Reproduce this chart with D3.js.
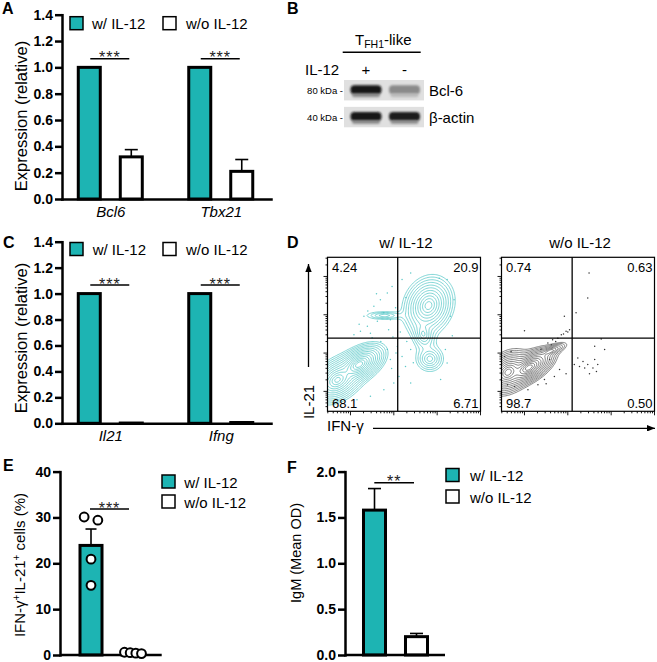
<!DOCTYPE html>
<html lang="en">
<head>
<meta charset="utf-8">
<title>IL-12 and TFH1-like cells</title>
<script src="https://cdn.jsdelivr.net/npm/d3@7/dist/d3.min.js"></script>
<style>
  * { margin:0; padding:0; }
  body { background:#fff; width:657px; height:662px; overflow:hidden; }
  svg { display:block; }
</style>
</head>
<body>
<svg id="fig" width="657" height="662"></svg>
<script>
// ─── Data ───
const series = ["w/ IL-12", "w/o IL-12"];

// A: qPCR
const genesA = ["Bcl6", "Tbx21"];
const withA = [1.0, 1.0];
const withErrA = [0, 0];
const withoutA = [0.32, 0.21];
const withoutErrA = [0.055, 0.09];
const starsA = ["***", "***"];

// C: qPCR
const genesC = ["Il21", "Ifng"];
const withC = [1.0, 1.0];
const withErrC = [0, 0];
const withoutC = [0.002, 0.006];
const withoutErrC = [0.002, 0.003];
const starsC = ["***", "***"];
const exprTicks = [0, 0.2, 0.4, 0.6, 0.8, 1.0, 1.2, 1.4];

// B: western blot (relative band darkness)
const blotLanes = ["+", "-"];
const blotProteins = ["Bcl-6", "β-actin"];
const blotMarkers = ["80 kDa -", "40 kDa -"];
const bcl6Band = [0.97, 0.38];
const actinBand = [0.97, 0.93];

// D: flow plots, quadrant % (UL, UR, LL, LR) and gates in decades
const quadWith = ["4.24", "20.9", "68.1", "6.71"];
const quadWithout = ["0.74", "0.63", "98.7", "0.50"];
const gateWith = [1.09, 1.39];
const gateWithout = [1.10, 1.39];
// populations: [x, y, sdX, sdY, rho, peak]
const popWith = [
  [0.20, 0.70, 0.20, 0.18, 0.50, 1.0],
  [-0.30, 0.30, 0.22, 0.22, 0.35, 0.5],
  [1.80, 2.24, 0.22, 0.29, 0.15, 0.35],
  [1.68, 1.50, 0.15, 0.25, -0.2, 0.04],
  [1.83, 0.85, 0.20, 0.21, 0.0, 0.03],
  [0.78, 1.98, 0.36, 0.09, 0.0, 0.012]
];
const popWithout = [
  [0.10, 0.62, 0.20, 0.17, 0.60, 1.0],
  [-0.38, 0.50, 0.18, 0.20, 0.30, 0.6],
  [0.60, 1.05, 0.20, 0.12, 0.75, 0.05]
];
const dotsWith = [
  [0.31,1.96],[0.39,1.70],[0.54,2.22],[0.69,2.39],[0.85,2.57],[0.96,2.74],[0.77,2.05],
  [0.92,1.87],[0.46,1.52],[0.23,1.57],[1.04,2.18],[0.62,1.83],[0.08,1.48],[0.88,1.61],
  [2.31,1.96],[2.39,2.39],[1.19,2.92],[1.39,3.09],[2.23,2.92],[1.08,1.17],[1.19,0.91],
  [1.27,0.65],[1.39,1.09],[1.12,0.39],[1.39,0.22],[2.08,0.31],[2.23,0.74],[2.19,1.09],
  [0.92,0.83],[0.85,1.09],[1.00,0.22],[0.77,0.04],[0.46,-0.13],[0.15,-0.22],[-0.23,-0.39],
  [0.50,1.40],[0.70,1.30],[0.98,1.42],[1.15,1.55],[1.28,2.45],[0.60,2.55],[0.40,2.10],
  [1.30,1.30],[1.45,0.75],[0.95,0.60],[1.05,1.00],[2.35,1.45],[2.05,2.95],[0.20,1.75]
];
const dotsWithout = [
  [1.49,3.09],[1.46,2.44],[1.19,2.05],[0.92,1.96],[0.00,1.58],[1.77,1.37],[1.62,1.18],
  [1.85,1.09],[1.23,0.87],[1.35,0.78],[1.46,0.70],[1.62,0.83],[1.58,0.61],[1.39,0.61],
  [1.27,0.65],[1.69,0.70],[1.15,0.70],[1.50,0.46],[1.66,0.52],[0.96,0.46],[0.81,0.57],
  [0.69,0.39],[0.85,1.48],[0.96,1.57],[0.77,1.39],[0.65,1.35],[1.04,1.61],[0.54,1.26],
  [0.62,1.22],[-0.23,0.13],[0.08,0.04],[0.31,0.17],[-0.39,0.17],[0.46,0.31],[-0.46,0.91],
  [-0.31,1.04],[0.58,0.83],[0.38,1.09],[0.90,1.50],[0.72,1.30],[1.00,1.55],[0.50,0.20]
];
const flowDecades = [-1, 0, 1, 2, 3];

// E: IFN-γ+IL-21+ cells (%), individual mice
const cellsWith = [30.1, 29.4, 20.9, 15.2];
const cellsWithout = [0.6, 0.5, 0.4, 0.3];
const cellsTicks = [0, 10, 20, 30, 40];

// F: IgM (Mean OD)
const igmMean = [1.58, 0.20];
const igmSem = [0.235, 0.035];
const igmTicks = [0, 0.5, 1.0, 1.5, 2.0];

// ─── Setup ───
const FONT = '"Liberation Sans", Arial, Helvetica, sans-serif';
const TEAL = "#1db4b3";
const fills = [TEAL, "#fff"];
const svg = d3.select("#fig").attr("font-family", FONT);
const defs = svg.append("defs");

defs.append("filter").attr("id", "blur").attr("x", "-30%").attr("y", "-80%")
  .attr("width", "160%").attr("height", "260%")
  .append("feGaussianBlur").attr("stdDeviation", 1.3);
defs.append("marker").attr("id", "arrow").attr("viewBox", "0 0 10 8")
  .attr("refX", 10).attr("refY", 4).attr("markerWidth", 8).attr("markerHeight", 6.4)
  .attr("markerUnits", "userSpaceOnUse").attr("orient", "auto")
  .append("path").attr("d", "M0,0L10,4L0,8z").attr("fill", "#000");

function styleAxis(sel, fs) {
  sel.attr("font-family", FONT).attr("font-size", fs);
  sel.select(".domain").attr("stroke-width", 2.5).attr("stroke-linecap", "square");
  sel.selectAll(".tick line").attr("stroke-width", 2.5);
  sel.selectAll(".tick text").attr("fill", "#000");
}

function rotLabel(x, y, text, fs) {
  return svg.append("text").attr("transform", `translate(${x},${y}) rotate(-90)`)
    .attr("text-anchor", "middle").attr("font-size", fs).text(text);
}

function starMark(x1, x2, yl, txt) {
  svg.append("line").attr("x1", x1).attr("x2", x2).attr("y1", yl).attr("y2", yl)
    .attr("stroke", "#000").attr("stroke-width", 1.5);
  svg.append("text").attr("x", (x1 + x2) / 2).attr("y", yl + 4.5).attr("text-anchor", "middle")
    .attr("font-size", 16).attr("letter-spacing", 1).attr("fill", "#222").text(txt);
}

function errBar(cx, y0, y1, half) {
  svg.append("line").attr("x1", cx).attr("x2", cx).attr("y1", y0).attr("y2", y1)
    .attr("stroke", "#000").attr("stroke-width", 1.6);
  svg.append("line").attr("x1", cx - half).attr("x2", cx + half).attr("y1", y1).attr("y2", y1)
    .attr("stroke", "#000").attr("stroke-width", 1.6);
}

function legend(xs, ys, tx, baseDy) {
  series.forEach((s, k) => {
    svg.append("rect").attr("x", xs[k]).attr("y", ys[k]).attr("width", 13).attr("height", 13)
      .attr("fill", fills[k]).attr("stroke", "#000").attr("stroke-width", 1.5);
    svg.append("text").attr("x", tx[k]).attr("y", ys[k] + baseDy).attr("font-size", 15).text(s);
  });
}

// ─── Panel labels ───
[["A", 2, 14], ["B", 287, 14], ["C", 3, 248], ["D", 287, 248], ["E", 3, 471], ["F", 287, 473]]
  .forEach(([t, x, y]) => svg.append("text").attr("x", x).attr("y", y)
    .attr("font-size", 16).attr("font-weight", "bold").text(t));

// ─── A & C: expression bars ───
function exprPanel(top, bottom, genes, vals, errs, stars, titleY) {
  const y = d3.scaleLinear().domain([0, 1.4]).range([bottom, top]);
  const gx = d3.scalePoint().domain(genes).range([62, 271]).padding(0.446).align(0.49);
  const sub = d3.scaleBand().domain(series).range([-42, 42]).paddingInner(0.476).paddingOuter(0.238);
  const bw = sub.bandwidth();
  const rows = genes.flatMap((gene, i) => series.map((s, k) => ({ gene, s, k, v: vals[k][i], e: errs[k][i] })));

  svg.append("g").selectAll("rect").data(rows).join("rect")
    .attr("x", d => gx(d.gene) + sub(d.s)).attr("width", bw)
    .attr("y", d => y(d.v)).attr("height", d => y(0) - y(d.v))
    .attr("fill", d => fills[d.k]).attr("stroke", "#000").attr("stroke-width", 3);
  rows.filter(d => d.e > 0).forEach(d => errBar(gx(d.gene) + sub(d.s) + bw / 2, y(d.v), y(d.v + d.e), 6.5));

  genes.forEach((gene, i) => {
    const c0 = gx(gene) + sub(series[0]) + bw / 2, c1 = gx(gene) + sub(series[1]) + bw / 2;
    starMark(c0 + 1, c1 - 2, y(1.0) - 8.5, stars[i]);
  });

  const ya = svg.append("g").attr("transform", "translate(62,0)")
    .call(d3.axisLeft(y).tickValues(exprTicks).tickFormat(d3.format(".1f")).tickSize(7).tickSizeOuter(0).tickPadding(2));
  styleAxis(ya, 14);
  ya.selectAll(".tick text").attr("font-weight", "bold");
  const xa = svg.append("g").attr("transform", `translate(0,${y(0)})`)
    .call(d3.axisBottom(gx).tickSize(0).tickPadding(7));
  styleAxis(xa, 15);
  xa.selectAll(".tick text").attr("font-style", "italic");

  rotLabel(27, titleY, "Expression (relative)", 16.5);
}
exprPanel(14.7, 199, genesA, [withA, withoutA], [withErrA, withoutErrA], starsA, 116);
exprPanel(241.7, 423.3, genesC, [withC, withoutC], [withErrC, withoutErrC], starsC, 338);
legend([70, 163], [16.7, 16.7], [92, 186], 12.6);
legend([70, 163], [242.5, 242.5], [92.7, 186], 12.6);

// ─── B: western blot ───
{
  const lane = d3.scalePoint().domain(blotLanes).range([366, 404.5]);
  const rowY = d3.scaleBand().domain(blotProteins).range([80, 127.3]).paddingInner(0.24);
  const bands = [bcl6Band, actinBand];
  const shade = d3.interpolateRgb("#d8d8d8", "#0c0c0c");

  svg.append("text").attr("x", 355).attr("y", 45).attr("font-size", 15)
    .call(t => {
      t.append("tspan").text("T");
      t.append("tspan").attr("font-size", 10.5).attr("dy", 3).text("FH1");
      t.append("tspan").attr("dy", -3).text("-like");
    });
  svg.append("line").attr("x1", 342.7).attr("x2", 420.7).attr("y1", 52.3).attr("y2", 52.3)
    .attr("stroke", "#000").attr("stroke-width", 1.6);
  svg.append("text").attr("x", 305).attr("y", 75).attr("font-size", 15).text("IL-12");
  blotLanes.forEach(l => svg.append("text").attr("x", lane(l)).attr("y", 75)
    .attr("text-anchor", "middle").attr("font-size", 15).text(l));

  blotProteins.forEach((p, r) => {
    const y0 = rowY(p), h = rowY.bandwidth();
    svg.append("rect").attr("x", 344).attr("y", y0).attr("width", 80).attr("height", h)
      .attr("fill", "#e0e0e0");
    blotLanes.forEach((l, i) => {
      const v = bands[r][i];
      svg.append("rect").attr("x", lane(l) - 15.5).attr("y", y0 + h / 2 - 5).attr("width", 31).attr("height", 9)
        .attr("rx", 4).attr("fill", shade(v)).attr("filter", "url(#blur)");
      svg.append("rect").attr("x", lane(l) - 14).attr("y", y0 + h / 2 + 3).attr("width", 28).attr("height", 4)
        .attr("rx", 2).attr("fill", shade(v * 0.45)).attr("opacity", 0.8).attr("filter", "url(#blur)");
    });
    svg.append("text").attr("x", 429).attr("y", y0 + h / 2 + 6).attr("font-size", 15).text(p);
    svg.append("text").attr("x", 343).attr("y", y0 + h / 2 + 4).attr("text-anchor", "end")
      .attr("font-size", 9.5).text(blotMarkers[r]);
  });
}

// ─── D: flow plots ───
function flowPlot(left, pops, dots, gate, quads, lineColor, dotColor, title, clipId) {
  const top = 257.3, w = 153, h = 154;
  const x = d3.scaleLinear().domain([-0.53, 3]).range([left, left + w]);
  const y = d3.scaleLinear().domain([-0.52, 3.5]).range([top + h, top]);
  const cs = 1.25, nx = Math.ceil(w / cs), ny = Math.ceil(h / cs);
  const vals = new Float64Array(nx * ny);
  for (let j = 0; j < ny; j++) {
    for (let i = 0; i < nx; i++) {
      const dx = x.invert(left + (i + 0.5) * cs), dy = y.invert(top + (j + 0.5) * cs);
      let s = 0;
      for (const [cx, cy, sx, sy, rho, pk] of pops) {
        const zx = (dx - cx) / sx, zy = (dy - cy) / sy, q = 1 - rho * rho;
        const r2 = (zx * zx - 2 * rho * zx * zy + zy * zy) / q;
        s += pk * Math.exp(-2 * Math.sqrt(r2 + 0.05));
      }
      vals[i + j * nx] = s;
    }
  }
  const mx = d3.max(vals);
  const th = d3.range(1, 14).map(k => mx * Math.pow(0.62, k)).reverse();
  const contours = d3.contours().size([nx, ny]).thresholds(th)(vals);
  const path = d3.geoPath(d3.geoTransform({
    point(px, py) { this.stream.point(left + px * cs, top + py * cs); }
  }));

  defs.append("clipPath").attr("id", clipId).append("rect")
    .attr("x", left).attr("y", top).attr("width", w).attr("height", h);
  const g = svg.append("g").attr("clip-path", `url(#${clipId})`);
  g.selectAll("circle").data(dots).join("circle")
    .attr("cx", d => x(d[0])).attr("cy", d => y(d[1])).attr("r", 0.75).attr("fill", dotColor);
  g.selectAll("path").data(contours).join("path").attr("d", path)
    .attr("fill", "none").attr("stroke", lineColor).attr("stroke-width", 0.7);

  svg.append("rect").attr("x", left).attr("y", top).attr("width", w).attr("height", h)
    .attr("fill", "none").attr("stroke", "#000").attr("stroke-width", 1.2);
  svg.append("line").attr("x1", x(gate[0])).attr("x2", x(gate[0])).attr("y1", top).attr("y2", top + h)
    .attr("stroke", "#000").attr("stroke-width", 1.3);
  svg.append("line").attr("x1", left).attr("x2", left + w).attr("y1", y(gate[1])).attr("y2", y(gate[1]))
    .attr("stroke", "#000").attr("stroke-width", 1.3);

  // log-style ticks
  const major = flowDecades.filter(d => d >= 0);
  const minor = flowDecades.flatMap(d => d3.range(2, 10).map(m => d + Math.log10(m)));
  const tg = svg.append("g").attr("stroke", "#000").attr("stroke-width", 0.9);
  major.forEach(d => {
    if (d <= 3) tg.append("line").attr("x1", x(d)).attr("x2", x(d)).attr("y1", top + h).attr("y2", top + h + 4);
    if (d <= 3.5) tg.append("line").attr("y1", y(d)).attr("y2", y(d)).attr("x1", left).attr("x2", left - 4);
  });
  minor.forEach(d => {
    if (d > -0.53 && d < 3) tg.append("line").attr("x1", x(d)).attr("x2", x(d)).attr("y1", top + h).attr("y2", top + h + 2);
    if (d > -0.52 && d < 3.5) tg.append("line").attr("y1", y(d)).attr("y2", y(d)).attr("x1", left).attr("x2", left - 2);
  });

  const qx = [left + 4.5, left + w - 2, left + 4.5, left + w - 2];
  const qy = [top + 14.4, top + 14.4, top + h - 3, top + h - 3];
  quads.forEach((q, i) => svg.append("text").attr("x", qx[i]).attr("y", qy[i])
    .attr("text-anchor", i % 2 ? "end" : "start").attr("font-size", 13).text(q));
  svg.append("text").attr("x", left + w / 2 + 2).attr("y", 248).attr("text-anchor", "middle")
    .attr("font-size", 15).text(title);
}
flowPlot(327.5, popWith, dotsWith, gateWith, quadWith, "#4cc4c4", "#5cc8c8", series[0], "clipA");
flowPlot(501.5, popWithout, dotsWithout, gateWithout, quadWithout, "#505050", "#333", series[1], "clipB");

svg.append("line").attr("x1", 308.5).attr("x2", 308.5).attr("y1", 367).attr("y2", 264)
  .attr("stroke", "#000").attr("stroke-width", 1.3).attr("marker-end", "url(#arrow)");
rotLabel(314, 402, "IL-21", 15);
svg.append("line").attr("x1", 373).attr("x2", 655).attr("y1", 428.3).attr("y2", 428.3)
  .attr("stroke", "#000").attr("stroke-width", 1.3).attr("marker-end", "url(#arrow)");
svg.append("text").attr("x", 327).attr("y", 431).attr("font-size", 15).text("IFN-γ");

// ─── E: % cells with individual points ───
function swarm(vals, yScale) {
  const idx = vals.map((v, i) => i).sort((a, b) => vals[b] - vals[a]);
  const groups = [];
  idx.forEach(i => {
    const last = groups[groups.length - 1];
    if (last && Math.abs(yScale(vals[last[last.length - 1]]) - yScale(vals[i])) < 9) last.push(i);
    else groups.push([i]);
  });
  const off = new Array(vals.length).fill(0);
  groups.forEach(gr => {
    const n = gr.length;
    if (n < 2) return;
    const sp = Math.min(13.7, 17 / (n - 1));
    gr.forEach((i, k) => { off[i] = (k - (n - 1) / 2) * sp; });
  });
  return off;
}
{
  const y = d3.scaleLinear().domain([0, 40]).range([655, 471.6]);
  const xb = d3.scaleBand().domain(series).range([64, 160]).paddingInner(0.476).paddingOuter(0.381);
  const groups = [cellsWith, cellsWithout];
  const means = groups.map(g => d3.mean(g));
  const sems = groups.map(g => d3.deviation(g) / Math.sqrt(g.length));
  svg.append("g").selectAll("rect").data(series).join("rect")
    .attr("x", s => xb(s)).attr("width", xb.bandwidth())
    .attr("y", (s, k) => y(means[k])).attr("height", (s, k) => y(0) - y(means[k]))
    .attr("fill", (s, k) => fills[k]).attr("stroke", "#000").attr("stroke-width", 3);
  series.forEach((s, k) => errBar(xb(s) + xb.bandwidth() / 2, y(means[k]), y(means[k] + sems[k]), 5.5));
  svg.append("line").attr("x1", 60).attr("x2", 161.7).attr("y1", y(0)).attr("y2", y(0))
    .attr("stroke", "#000").attr("stroke-width", 2.5);
  groups.forEach((vals, k) => {
    const off = swarm(vals, y);
    const cx = xb(series[k]) + xb.bandwidth() / 2;
    const pts = vals.map((v, i) => ({ v, o: off[i] })).sort((a, b) => a.o - b.o);
    svg.append("g").selectAll("circle").data(pts).join("circle")
      .attr("cx", d => cx + d.o).attr("cy", d => y(d.v)).attr("r", 4.4)
      .attr("fill", "#fff").attr("stroke", "#000").attr("stroke-width", 2);
  });
  starMark(90, 129, 509, "***");
  const ya = svg.append("g").attr("transform", "translate(60,0)")
    .call(d3.axisLeft(y).tickValues(cellsTicks).tickSize(7).tickSizeOuter(0).tickPadding(2));
  styleAxis(ya, 14);
  ya.selectAll(".tick text").attr("font-weight", "bold");
  svg.append("text").attr("transform", "translate(25,565) rotate(-90)").attr("text-anchor", "middle")
    .attr("font-size", 15)
    .call(t => {
      t.append("tspan").text("IFN-γ");
      t.append("tspan").attr("font-size", 10).attr("dy", -5).text("+");
      t.append("tspan").attr("dy", 5).text("IL-21");
      t.append("tspan").attr("font-size", 10).attr("dy", -5).text("+");
      t.append("tspan").attr("dy", 5).text(" cells (%)");
    });
  legend([162, 162], [475, 495], [184.3, 184.3], 12.5);
}

// ─── F: IgM ───
{
  const y = d3.scaleLinear().domain([0, 2]).range([655, 471.6]);
  const xb = d3.scaleBand().domain(series).range([347.5, 443.5]).paddingInner(0.476).paddingOuter(0.381);
  svg.append("g").selectAll("rect").data(series).join("rect")
    .attr("x", s => xb(s)).attr("width", xb.bandwidth())
    .attr("y", (s, k) => y(igmMean[k])).attr("height", (s, k) => y(0) - y(igmMean[k]))
    .attr("fill", (s, k) => fills[k]).attr("stroke", "#000").attr("stroke-width", 3);
  series.forEach((s, k) => errBar(xb(s) + xb.bandwidth() / 2, y(igmMean[k]), y(igmMean[k] + igmSem[k]), 6.5));
  svg.append("line").attr("x1", 345).attr("x2", 445).attr("y1", y(0)).attr("y2", y(0))
    .attr("stroke", "#000").attr("stroke-width", 2.5);
  starMark(374.3, 414, 482.7, "**");
  const ya = svg.append("g").attr("transform", "translate(345,0)")
    .call(d3.axisLeft(y).tickValues(igmTicks).tickFormat(d3.format(".1f")).tickSize(7).tickSizeOuter(0).tickPadding(2));
  styleAxis(ya, 14);
  ya.selectAll(".tick text").attr("font-weight", "bold");
  rotLabel(301, 553, "IgM (Mean OD)", 14.5);
  legend([446, 446], [468.5, 490], [470, 470], 12.5);
}
</script>
</body>
</html>
